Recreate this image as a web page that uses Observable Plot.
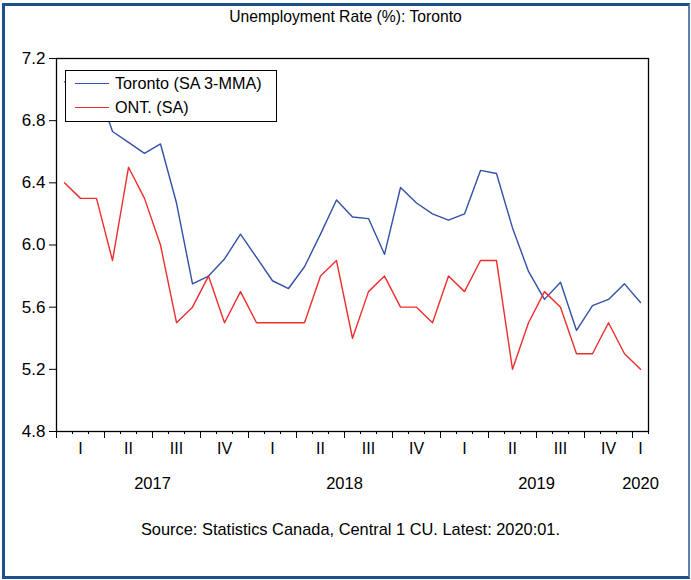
<!DOCTYPE html>
<html><head><meta charset="utf-8">
<script src="https://cdn.jsdelivr.net/npm/d3@7"></script>
<script src="https://cdn.jsdelivr.net/npm/@observablehq/plot@0.6"></script>
<style>
body{margin:0;background:#fff;font-family:"Liberation Sans",Arial,sans-serif;color:#000;}
#page{position:relative;width:691px;height:580px;overflow:hidden;background:#fff;}
#border{position:absolute;left:2px;top:3px;width:683px;height:570px;border:3px solid #1f4e8c;border-right:2px solid #5b7fb5;}
#title{position:absolute;top:8px;left:0;width:691px;text-align:center;font-size:15.7px;}
#chart{position:absolute;left:0;top:40px;}
#caption{position:absolute;top:520px;left:0;width:701px;text-align:center;font-size:16.4px;}
#legend{position:absolute;left:65px;top:70px;width:210px;height:50px;border:1px solid #000;background:#fff;}
.lg{position:absolute;left:9px;width:34px;height:0;border-top:1.3px solid;}
.lt{position:absolute;left:49px;font-size:16.2px;line-height:18px;white-space:nowrap;}
</style></head>
<body>
<div id="page">
  <div id="border"></div>
  <div id="title">Unemployment Rate (%): Toronto</div>
  <div id="chart"></div>
  <div id="legend"></div>
  <div id="caption">Source: Statistics Canada, Central 1 CU. Latest: 2020:01.</div>
</div>
<script>
const months = ["2017:01","2017:02","2017:03","2017:04","2017:05","2017:06","2017:07","2017:08","2017:09","2017:10","2017:11","2017:12",
"2018:01","2018:02","2018:03","2018:04","2018:05","2018:06","2018:07","2018:08","2018:09","2018:10","2018:11","2018:12",
"2019:01","2019:02","2019:03","2019:04","2019:05","2019:06","2019:07","2019:08","2019:09","2019:10","2019:11","2019:12",
"2020:01"];
const toronto = [7.05,7.02,7.03,6.73,6.66,6.59,6.65,6.27,5.75,5.80,5.91,6.07,
5.92,5.77,5.72,5.86,6.07,6.29,6.18,6.17,5.94,6.37,6.27,6.20,
6.16,6.20,6.48,6.46,6.11,5.83,5.65,5.76,5.45,5.61,5.65,5.75,
5.63];
const ontario = [6.4,6.3,6.3,5.9,6.5,6.3,6.0,5.5,5.6,5.8,5.5,5.7,
5.5,5.5,5.5,5.5,5.8,5.9,5.4,5.7,5.8,5.6,5.6,5.5,
5.8,5.7,5.9,5.9,5.2,5.5,5.7,5.6,5.3,5.3,5.5,5.3,
5.2];
const seriesNames = ["Toronto (SA 3-MMA)", "ONT. (SA)"];
const seriesColors = ["#3350a6", "#ee2d2d"];
const quarterLabels = ["I","II","III","IV"];
const yearLabels = ["2017","2018","2019","2020"];
const yTicks = [4.8,5.2,5.6,6.0,6.4,6.8,7.2];

const n = months.length;
const data = months.map((m,i)=>({i, month:m, toronto:toronto[i], ontario:ontario[i]}));
const monthBounds = d3.range(n+1).map(i=>i-0.5);
const quarterBounds = d3.range(0, n+1, 3).map(i=>i-0.5);
const quarterData = d3.range(Math.ceil(n/3)).map(q=>{
  const s=3*q, e=Math.min(3*q+3,n);
  return {pos:(s+e)/2-0.5, label:quarterLabels[q%4]};
});
const yearData = yearLabels.map((y,k)=>{
  const s=12*k, e=Math.min(12*k+12,n);
  return {pos:(s+e)/2-0.5, label:y};
});

const chart = Plot.plot({
  width:691, height:470,
  marginLeft:56, marginRight:43, marginTop:18, marginBottom:79,
  x:{domain:[-0.5, n-0.5], axis:null},
  y:{domain:[4.8,7.2], axis:null},
  style:{fontFamily:"'Liberation Sans', Arial, sans-serif", fontSize:"15px", color:"#000", background:"transparent"},
  marks:[
    Plot.line(data,{x:"i", y:"toronto", stroke:seriesColors[0], strokeWidth:1.4}),
    Plot.line(data,{x:"i", y:"ontario", stroke:seriesColors[1], strokeWidth:1.4}),
    Plot.frame({stroke:"#000", strokeWidth:1.3}),
    Plot.axisY(yTicks,{tickSize:7, tickPadding:4, tickFormat:d3.format(".1f"), fontSize:17, label:null}),
    Plot.axisX(monthBounds,{tickSize:3, tickFormat:()=>"", label:null}),
    Plot.axisX(quarterBounds,{tickSize:7, tickFormat:()=>"", label:null}),
    Plot.text(quarterData,{x:"pos", text:"label", frameAnchor:"bottom", dy:22, fontSize:16}),
    Plot.text(yearData,{x:"pos", text:"label", frameAnchor:"bottom", dy:57, fontSize:16.5})
  ]
});
document.getElementById("chart").appendChild(chart);

const lg = document.getElementById("legend");
seriesNames.forEach((name,k)=>{
  const line = document.createElement("div");
  line.className="lg"; line.style.top=(12+k*24)+"px"; line.style.borderTopColor=seriesColors[k];
  lg.appendChild(line);
  const t = document.createElement("div");
  t.className="lt"; t.style.top=(3+k*24)+"px"; t.textContent=name;
  lg.appendChild(t);
});
</script>
</body></html>
